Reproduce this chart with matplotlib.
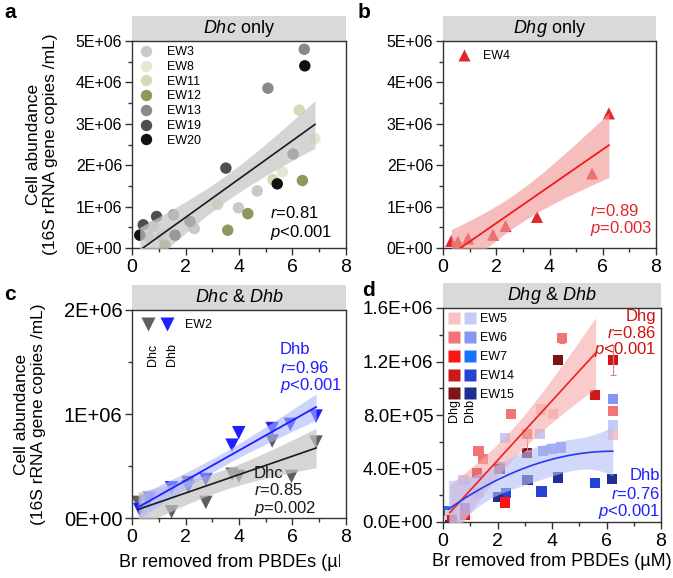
import numpy as np
import matplotlib
matplotlib.use('Agg')
import matplotlib.pyplot as plt
from matplotlib.patches import Rectangle
from matplotlib.lines import Line2D
from matplotlib.legend_handler import HandlerTuple
from matplotlib.transforms import Bbox, TransformedBbox

plt.rcParams['font.family'] = ['Liberation Sans', 'DejaVu Sans']
plt.rcParams['mathtext.fontset'] = 'custom'
plt.rcParams['mathtext.rm'] = 'Liberation Sans'
plt.rcParams['mathtext.it'] = 'Liberation Sans:italic'

# ---------------- data ----------------
x_ticks = [0, 2, 4, 6, 8]

# panel a : Dhc only
a_samples = ['EW3', 'EW8', 'EW11', 'EW12', 'EW13', 'EW19', 'EW20']
a_x = [[0.6, 0.79, 1.1, 2.33, 3.98, 4.68],
       [1.3, 5.62, 6.84],
       [3.2, 5.27, 6.25],
       [1.23, 3.58, 4.33, 6.37],
       [1.55, 5.08, 6.44],
       [0.42, 0.92, 2.17, 3.51, 6.02],
       [0.29, 1.61, 5.43, 6.46]]
a_y = [[0.27e6, 0.52e6, 0.27e6, 0.47e6, 0.97e6, 1.38e6],
       [0.35e6, 1.84e6, 2.64e6],
       [1.05e6, 1.65e6, 3.33e6],
       [0.07e6, 0.43e6, 0.83e6, 1.63e6],
       [0.80e6, 3.86e6, 4.80e6],
       [0.56e6, 0.76e6, 0.64e6, 1.93e6, 2.27e6],
       [0.31e6, 0.31e6, 1.55e6, 4.40e6]]
a_stats = ['$r$=0.81', '$p$<0.001']

# panel b : Dhg only
b_sample = 'EW4'
b_x = [0.31, 0.56, 0.94, 1.88, 2.35, 3.53, 5.6, 6.23]
b_y = [0.17e6, 0.15e6, 0.23e6, 0.32e6, 0.53e6, 0.75e6, 1.80e6, 3.25e6]
b_stats = ['$r$=0.89', '$p$=0.003']

# y ticks a/b
ab_yticks = [0, 1e6, 2e6, 3e6, 4e6, 5e6]
ab_ylabels = ['0E+00', '1E+06', '2E+06', '3E+06', '4E+06', '5E+06']

# panel c : Dhc & Dhb (EW2)
c_sample = 'EW2'
c_dhc_x = [0.23, 0.6, 1.48, 2.1, 2.76, 3.74, 3.99, 5.24, 5.96, 6.88]
c_dhc_y = [0.15e6, 0.16e6, 0.06e6, 0.34e6, 0.15e6, 0.42e6, 0.40e6, 0.74e6, 0.40e6, 0.73e6]
c_dhb_x = [0.29, 0.66, 1.48, 2.1, 2.76, 3.74, 3.99, 5.24, 5.92, 6.88]
c_dhb_y = [0.08e6, 0.19e6, 0.29e6, 0.30e6, 0.37e6, 0.70e6, 0.82e6, 0.86e6, 0.90e6, 0.98e6]
c_yticks = [0, 1e6, 2e6]
c_ylabels = ['0E+00', '1E+06', '2E+06']
c_dhb_stats = ['Dhb', '$r$=0.96', '$p$<0.001']
c_dhc_stats = ['Dhc', '$r$=0.85', '$p$=0.002']

# panel d : Dhg & Dhb
d_samples = ['EW5', 'EW6', 'EW7', 'EW14', 'EW15']
d_dhg_x = [[0.25, 3.6, 4.03, 6.23],
           [1.30, 1.48, 2.5, 3.07, 4.36, 6.23],
           [0.81, 2.27],
           [0.32, 1.24, 5.59, 6.23],
           [2.07, 3.07, 4.22]]
d_dhg_y = [[0.05e6, 0.84e6, 0.81e6, 0.65e6],
           [0.53e6, 0.47e6, 0.805e6, 0.66e6, 1.376e6, 0.83e6],
           [0.054e6, 0.146e6],
           [0.017e6, 0.365e6, 0.949e6, 1.21e6],
           [0.395e6, 0.514e6, 1.21e6]]
d_dhb_x = [[0.75, 1.28, 2.27, 3.56, 6.23, 6.2],
           [2.09, 3.66, 3.99, 4.33, 6.23],
           [0.2],
           [0.81, 2.3, 3.62, 5.59],
           [0.26, 2.01, 3.1, 4.21, 6.2]]
d_dhb_y = [[0.315e6, 0.216e6, 0.626e6, 0.66e6, 0.725e6, 0.32e6],
           [0.41e6, 0.53e6, 0.547e6, 0.556e6, 0.92e6],
           [0.08e6],
           [0.104e6, 0.216e6, 0.228e6, 0.29e6],
           [0.04e6, 0.186e6, 0.315e6, 0.333e6, 0.32e6]]
d_err_x = [6.23, 4.36, 3.07]
d_err_y = [1.21e6, 1.376e6, 0.60e6]
d_err = [0.11e6, 0.04e6, 0.07e6]
d_dhg_fit_end = 5.6
d_yticks = [0, 0.4e6, 0.8e6, 1.2e6, 1.6e6]
d_ylabels = ['0.0E+00', '4.0E+05', '8.0E+05', '1.2E+06', '1.6E+06']
d_dhg_stats = ['Dhg', '$r$=0.86', '$p$<0.001']
d_dhb_stats = ['Dhb', '$r$=0.76', '$p$<0.001']

# ---------------- colours ----------------
a_colors = ['#c9c9c9', '#e3e8d3', '#d4dab6', '#8d995c', '#8a8a8a', '#4f4f4f', '#111111']
b_color = '#e0262b'
dhg_colors = ['#f8c2c2', '#f27474', '#ff1414', '#cc1818', '#7e1515']
dhb_colors = ['#c4cbf6', '#8797f0', '#1673ff', '#2442d4', '#1f2e8f']

W, H = 673, 578


def fit_band(x, y, deg, x0, x1):
    x = np.asarray(x, float)
    y = np.asarray(y, float)
    X = np.vander(x, deg + 1)
    beta = np.linalg.lstsq(X, y, rcond=None)[0]
    res = y - X @ beta
    dof = len(x) - deg - 1
    cov = (res @ res / dof) * np.linalg.inv(X.T @ X)
    xs = np.linspace(x0, x1, 120)
    Xs = np.vander(xs, deg + 1)
    yh = Xs @ beta
    se = np.sqrt(np.einsum('ij,jk,ik->i', Xs, cov, Xs))
    z = 1.96
    t = z + (z**3 + z) / (4 * dof) + (5 * z**5 + 16 * z**3 + 3 * z) / (96 * dof**2)
    return xs, yh, yh - t * se, yh + t * se


def style(ax, yticks, ylabels, yminor, ysize):
    ax.set_xlim(0, 8)
    ax.set_ylim(0, yticks[-1])
    ax.set_xticks(x_ticks)
    ax.set_xticks([1, 3, 5, 7], minor=True)
    ax.set_yticks(yticks)
    ax.set_yticklabels(ylabels)
    ax.set_yticks(yminor, minor=True)
    ax.tick_params(which='both', direction='out', width=1, color='#333333')
    ax.tick_params(which='major', length=5)
    ax.tick_params(which='minor', length=3)
    ax.tick_params(axis='x', labelsize=14, pad=3)
    ax.tick_params(axis='y', labelsize=ysize, pad=2)
    for s in ax.spines.values():
        s.set_linewidth(1)
        s.set_color('#333333')


def header(ax, text, h=25):
    fh = h / H / ax.get_position().height
    ax.add_patch(Rectangle((0, 1), 1, fh, transform=ax.transAxes, facecolor='#d9d9d9',
                           edgecolor='none', clip_on=False, zorder=0))
    ax.text(0.5, 1 + fh / 2, text, transform=ax.transAxes, ha='center', va='center', fontsize=13)


def pos(l, t, r, b):
    return [l / W, 1 - b / H, (r - l) / W, (b - t) / H]


fig = plt.figure(figsize=(W / 100, H / 100), dpi=100)
ax_a = fig.add_axes(pos(132, 41, 346, 248))
ax_b = fig.add_axes(pos(443, 41, 656, 248))
ax_c = fig.add_axes(pos(132, 310, 346, 518))
ax_d = fig.add_axes(pos(443, 308, 661, 522))

ylab = 'Cell abundance\n(16S rRNA gene copies /mL)'

# ---- a ----
ax = ax_a
for xs, ys, c in zip(a_x, a_y, a_colors):
    ax.scatter(xs, ys, s=68, color=c, edgecolors='none', zorder=2)
all_x = np.concatenate(a_x)
all_y = np.concatenate(a_y)
fx, fy, lo, hi = fit_band(all_x, all_y, 1, all_x.min(), all_x.max())
ax.fill_between(fx, lo, hi, color='#c8c8c8', alpha=0.75, lw=0, zorder=3)
ax.plot(fx, fy, color='#1a1a1a', lw=1.2, zorder=4)
style(ax, ab_yticks, ab_ylabels, np.arange(0.5e6, 5e6, 1e6), 11.5)
header(ax, '$Dhc$ only')
hs = [Line2D([], [], marker='o', ls='none', ms=8.2, mfc=c, mec='none') for c in a_colors]
ax.legend(hs, a_samples, loc='upper left', bbox_to_anchor=(0.035, 0.975), frameon=False,
          fontsize=9, handlelength=1, handletextpad=1.2, labelspacing=0.22,
          borderpad=0, borderaxespad=0)
ax.text(0.645, 0.169, a_stats[0], transform=ax.transAxes, fontsize=12, va='center')
ax.text(0.645, 0.077, a_stats[1], transform=ax.transAxes, fontsize=12, va='center')
ax.set_ylabel(ylab, fontsize=12.5, labelpad=13, linespacing=1.15)

# ---- b ----
ax = ax_b
ax.scatter(b_x, b_y, s=75, marker='^', color=b_color, edgecolors='none', zorder=2)
fx, fy, lo, hi = fit_band(b_x, b_y, 1, min(b_x), max(b_x))
ax.fill_between(fx, lo, hi, color='#f29a9a', alpha=0.65, lw=0, zorder=3)
ax.plot(fx, fy, color='#ee1c1c', lw=1.3, zorder=4)
style(ax, ab_yticks, ab_ylabels, np.arange(0.5e6, 5e6, 1e6), 11.5)
header(ax, '$Dhg$ only')
ax.legend([Line2D([], [], marker='^', ls='none', ms=8.5, mfc=b_color, mec='none')], [b_sample],
          loc='upper left', bbox_to_anchor=(0.07, 0.955), frameon=False, fontsize=9,
          handlelength=1, handletextpad=1.0, borderpad=0, borderaxespad=0)
ax.text(0.69, 0.179, b_stats[0], transform=ax.transAxes, fontsize=12, va='center', color=b_color)
ax.text(0.69, 0.092, b_stats[1], transform=ax.transAxes, fontsize=12, va='center', color=b_color)

# ---- c ----
ax = ax_c
dhc_col, dhb_col = '#5e5e5e', '#1f1fff'
ax.scatter(c_dhc_x, c_dhc_y, s=95, marker='v', color=dhc_col, edgecolors='none', zorder=2)
ax.scatter(c_dhb_x, c_dhb_y, s=95, marker='v', color=dhb_col, edgecolors='none', zorder=2)
fx, fy, lo, hi = fit_band(c_dhc_x, c_dhc_y, 1, min(c_dhc_x), max(c_dhc_x))
ax.fill_between(fx, lo, hi, color='#c4c4c4', alpha=0.7, lw=0, zorder=3)
ax.plot(fx, fy, color='#1a1a1a', lw=1.2, zorder=4)
fx, fy, lo, hi = fit_band(c_dhb_x, c_dhb_y, 1, min(c_dhb_x), max(c_dhb_x))
ax.fill_between(fx, lo, hi, color='#aab6ff', alpha=0.6, lw=0, zorder=3)
ax.plot(fx, fy, color='#1f1fff', lw=1.3, zorder=4)
style(ax, c_yticks, c_ylabels, [0.5e6, 1.5e6], 14.5)
header(ax, '$Dhc$ & $Dhb$')
h1 = Line2D([], [], marker='v', ls='none', ms=9.5, mfc=dhc_col, mec='none')
h2 = Line2D([], [], marker='v', ls='none', ms=9.5, mfc=dhb_col, mec='none')
ax.legend([(h1, h2)], [c_sample], handler_map={tuple: HandlerTuple(ndivide=None, pad=0.5)},
          loc='upper left', bbox_to_anchor=(0.045, 0.955), frameon=False, fontsize=9,
          handlelength=2.5, handletextpad=0.95, borderpad=0, borderaxespad=0)
ax.text(0.098, 0.784, 'Dhc', transform=ax.transAxes, rotation=90, fontsize=9, ha='center', va='center')
ax.text(0.187, 0.784, 'Dhb', transform=ax.transAxes, rotation=90, fontsize=9, ha='center', va='center')
for s, yy in zip(c_dhb_stats, [0.808, 0.721, 0.639]):
    ax.text(0.692, yy, s, transform=ax.transAxes, fontsize=12, va='center', color=dhb_col)
for s, yy in zip(c_dhc_stats, [0.216, 0.135, 0.048]):
    ax.text(0.57, yy, s, transform=ax.transAxes, fontsize=12, va='center', color='#1a1a1a')
ax.set_ylabel(ylab, fontsize=12.5, labelpad=13, linespacing=1.15)
ax.set_xlabel('Br removed from PBDEs (\u00b5M)', fontsize=13, labelpad=6)
# the left half of the figure is cut at the right edge, as in the source
ax.xaxis.label.set_clip_box(TransformedBbox(Bbox([[0, 0], [340 / W, 1]]), fig.transFigure))
ax.xaxis.label.set_clip_on(True)

# ---- d ----
ax = ax_d
for xs, ys, c in zip(d_dhb_x, d_dhb_y, dhb_colors):
    ax.scatter(xs, ys, s=55, marker='s', color=c, edgecolors='none', zorder=2)
for xs, ys, c in zip(d_dhg_x, d_dhg_y, dhg_colors):
    ax.scatter(xs, ys, s=55, marker='s', color=c, edgecolors='none', zorder=2)
ax.errorbar(d_err_x, d_err_y, yerr=d_err, fmt='none', ecolor='#e08080', elinewidth=0.8,
            capsize=2, capthick=0.8, zorder=2)
gx = np.concatenate(d_dhg_x)
gy = np.concatenate(d_dhg_y)
keep = gx <= d_dhg_fit_end
fx, fy, lo, hi = fit_band(gx[keep], gy[keep], 1, gx.min(), d_dhg_fit_end)
ax.fill_between(fx, lo, hi, color='#f7a9a9', alpha=0.6, lw=0, zorder=3)
ax.plot(fx, fy, color='#ee2020', lw=1.2, zorder=4)
bx = np.concatenate(d_dhb_x)
by = np.concatenate(d_dhb_y)
fx, fy, lo, hi = fit_band(bx, by, 2, bx.min(), bx.max())
ax.fill_between(fx, lo, hi, color='#b3bff7', alpha=0.6, lw=0, zorder=3)
ax.plot(fx, fy, color='#2a3af0', lw=1.2, zorder=4)
style(ax, d_yticks, d_ylabels, np.arange(0.2e6, 1.6e6, 0.4e6), 13.5)
header(ax, '$Dhg$ & $Dhb$')
hs = [(Line2D([], [], marker='s', ls='none', ms=8, mfc=g, mec='none'),
       Line2D([], [], marker='s', ls='none', ms=8, mfc=b, mec='none'))
      for g, b in zip(dhg_colors, dhb_colors)]
ax.legend(hs, d_samples, handler_map={tuple: HandlerTuple(ndivide=None, pad=0.36)},
          loc='upper left', bbox_to_anchor=(0.025, 0.975), frameon=False, fontsize=9,
          handlelength=2.2, handletextpad=0.35, labelspacing=0.55, borderpad=0, borderaxespad=0)
ax.text(0.05, 0.519, 'Dhg', transform=ax.transAxes, rotation=90, fontsize=9, ha='center', va='center')
ax.text(0.124, 0.519, 'Dhb', transform=ax.transAxes, rotation=90, fontsize=9, ha='center', va='center')
for s, yy in zip(d_dhg_stats, [0.958, 0.883, 0.804]):
    ax.text(0.977, yy, s, transform=ax.transAxes, fontsize=12, va='center', ha='right', color='#cc1111')
for s, yy in zip(d_dhb_stats, [0.215, 0.131, 0.047]):
    ax.text(0.995, yy, s, transform=ax.transAxes, fontsize=12, va='center', ha='right', color='#1f1fff')
ax.set_xlabel('Br removed from PBDEs (\u00b5M)', fontsize=13, labelpad=2)

# panel letters
for lab, x, y in [('a', 4, 12), ('b', 358, 12), ('c', 4, 294), ('d', 362, 290)]:
    fig.text(x / W, 1 - y / H, lab, fontsize=15, fontweight='bold', va='center')

fig.savefig('out.png', dpi=100)
